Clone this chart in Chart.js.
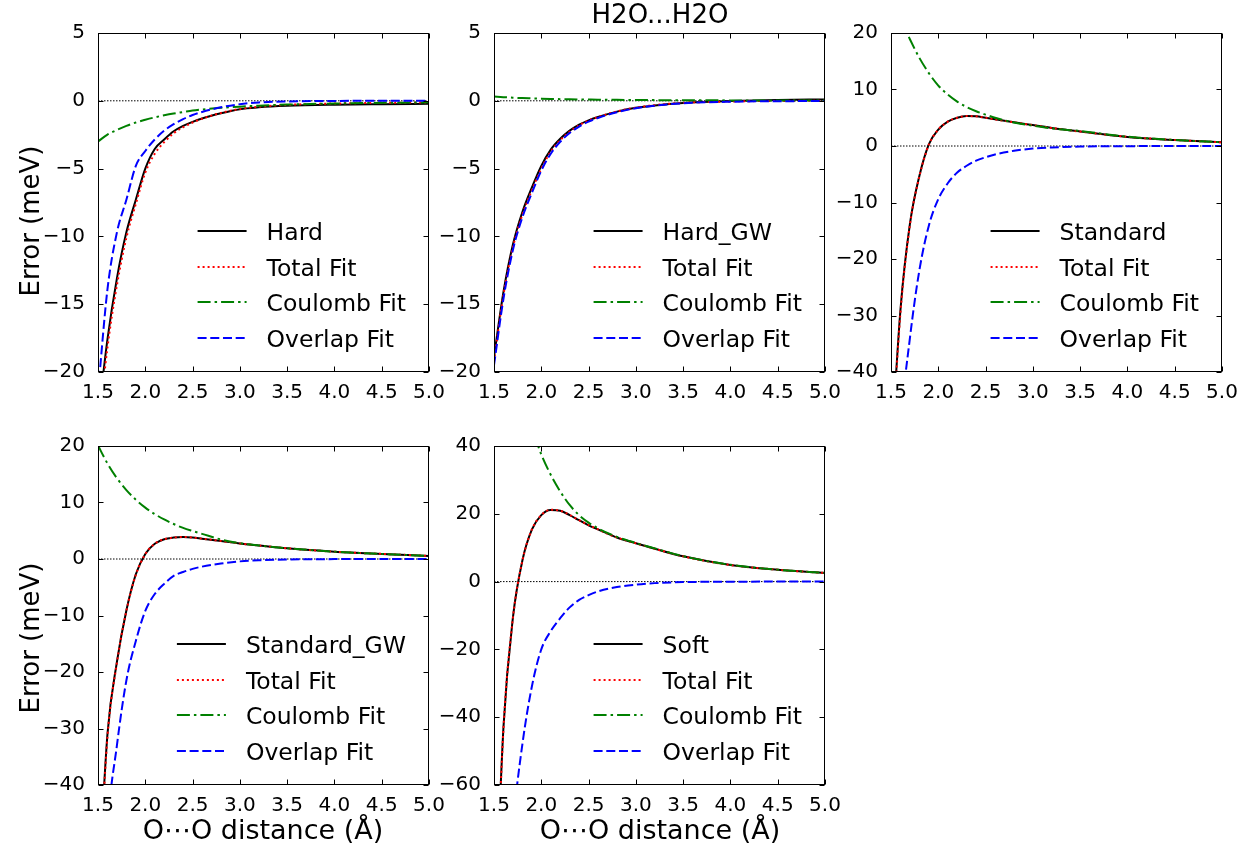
<!DOCTYPE html>
<html>
<head>
<meta charset="utf-8">
<script src="https://cdn.jsdelivr.net/npm/chart.js@4.4.1/dist/chart.umd.min.js"></script>
<style>
body { margin: 0; background: #fff; }
#fig { position: relative; width: 1251px; height: 847px; overflow: hidden; font-family: "DejaVu Sans", sans-serif; }
#fig canvas { position: absolute; }
.lbl { position: absolute; line-height: 1; white-space: nowrap; font-size: 26px; color: #000; transform: translate(-50%, -50%); }
.rot { transform: translate(-50%, -50%) rotate(-90deg); }
.xt { font-size: 27px; }
</style>
</head>
<body>
<div id="fig">
  <canvas id="c1" width="409" height="388" style="left:38px;top:16px"></canvas>
  <canvas id="c2" width="409" height="388" style="left:434px;top:16px"></canvas>
  <canvas id="c3" width="409" height="388" style="left:831px;top:16px"></canvas>
  <canvas id="c4" width="409" height="388" style="left:38px;top:429px"></canvas>
  <canvas id="c5" width="409" height="388" style="left:434px;top:429px"></canvas>
  <div class="lbl" style="left:660px;top:14px">H2O...H2O</div>
  <div class="lbl rot" style="left:30px;top:221px">Error (meV)</div>
  <div class="lbl rot" style="left:30px;top:638px">Error (meV)</div>
  <div class="lbl xt" style="left:263px;top:829px">O⋯O distance (Å)</div>
  <div class="lbl xt" style="left:660px;top:829px">O⋯O distance (Å)</div>
</div>
<script>
// O...O 距離 (Å)
const distance = [1.5, 1.6, 1.7, 1.8, 1.9, 2.0, 2.1, 2.2, 2.3, 2.4, 2.5, 2.6, 2.8, 3.0, 3.2, 3.5, 4.0, 4.5, 5.0];
const xTicks = [1.5, 2.0, 2.5, 3.0, 3.5, 4.0, 4.5, 5.0];

// Hard
const hardRef     = [-23.5, -17.6, -13.1, -9.7, -7.3, -5.0, -3.55, -2.85, -2.25, -1.85, -1.55, -1.3, -0.92, -0.62, -0.48, -0.37, -0.29, -0.25, -0.22];
const hardTotal   = [-24.5, -18.2, -13.6, -10.1, -7.6, -5.3, -3.9, -3.05, -2.4, -1.95, -1.6, -1.32, -0.9, -0.6, -0.44, -0.3, -0.2, -0.15, -0.12];
const hardCoulomb = [-3.0, -2.5, -2.15, -1.85, -1.6, -1.4, -1.22, -1.07, -0.94, -0.83, -0.72, -0.64, -0.52, -0.43, -0.36, -0.28, -0.2, -0.15, -0.11];
const hardOverlap = [-21.5, -13.9, -9.7, -7.3, -4.8, -3.7, -2.85, -2.2, -1.72, -1.35, -1.05, -0.82, -0.48, -0.25, -0.12, -0.05, -0.01, 0, 0];

// Hard_GW
const hardGwRef     = [-18.9, -14.1, -10.6, -8.2, -6.4, -4.8, -3.6, -2.8, -2.2, -1.75, -1.45, -1.2, -0.8, -0.52, -0.34, -0.16, -0.02, 0.06, 0.1];
const hardGwTotal   = [-19.2, -14.3, -10.8, -8.4, -6.6, -5.0, -3.75, -2.9, -2.28, -1.8, -1.45, -1.2, -0.78, -0.5, -0.32, -0.15, -0.05, -0.01, 0];
const hardGwCoulomb = [0.32, 0.27, 0.23, 0.2, 0.18, 0.16, 0.14, 0.12, 0.11, 0.1, 0.09, 0.08, 0.07, 0.06, 0.05, 0.04, 0.03, 0.02, 0.02];
const hardGwOverlap = [-19.5, -14.6, -11.0, -8.6, -6.8, -5.15, -3.9, -3.02, -2.38, -1.9, -1.53, -1.27, -0.84, -0.55, -0.36, -0.18, -0.07, -0.03, -0.02];

// Standard
const stdRef     = [-55, -29, -13.8, -5.3, 0.3, 2.9, 4.3, 5.0, 5.3, 5.25, 5.0, 4.75, 4.2, 3.7, 3.2, 2.57, 1.6, 1.05, 0.65];
const stdTotal   = [-56, -29.5, -14, -5.4, 0.2, 2.9, 4.3, 5.0, 5.3, 5.25, 5.0, 4.72, 4.2, 3.68, 3.2, 2.55, 1.62, 1.06, 0.66];
const stdCoulomb = [27, 22.5, 18.9, 15.6, 12.9, 10.7, 9.1, 7.85, 6.9, 6.15, 5.55, 5.0, 4.15, 3.6, 3.1, 2.65, 1.65, 1.07, 0.67];
const stdOverlap = [-80, -50, -34, -22, -14.1, -9.4, -6.6, -4.7, -3.5, -2.6, -2.0, -1.5, -0.85, -0.45, -0.25, -0.1, -0.03, 0, 0];

// Standard_GW
const stdGwRef     = [-60, -31, -18.2, -9.1, -2.7, 0.9, 2.7, 3.5, 3.8, 3.9, 3.8, 3.6, 3.2, 2.75, 2.4, 1.9, 1.3, 0.9, 0.55];
const stdGwTotal   = [-61, -31.5, -18.4, -9.2, -2.8, 0.85, 2.7, 3.5, 3.8, 3.9, 3.8, 3.6, 3.2, 2.75, 2.4, 1.9, 1.3, 0.9, 0.55];
const stdGwCoulomb = [20.1, 16.9, 14.3, 12.2, 10.5, 9.1, 7.95, 7.0, 6.2, 5.5, 4.95, 4.45, 3.45, 2.8, 2.4, 1.9, 1.3, 0.9, 0.55];
const stdGwOverlap = [-85, -48, -33, -21.5, -14.5, -9.2, -6.2, -4.4, -3.0, -2.3, -1.75, -1.35, -0.8, -0.42, -0.22, -0.08, -0.02, 0, 0];

// Soft
const softRef     = [-110, -43, -10.6, 6.2, 15.3, 19.6, 21.1, 20.9, 19.6, 18.1, 16.6, 15.4, 13.0, 11.3, 9.7, 7.45, 4.9, 3.5, 2.55];
const softTotal   = [-111, -43.5, -10.8, 6.1, 15.3, 19.6, 21.2, 20.9, 19.7, 18.1, 16.7, 15.4, 13.0, 11.3, 9.7, 7.45, 4.9, 3.5, 2.55];
const softCoulomb = [90, 76, 64, 54, 45.5, 37.5, 31.5, 26.6, 22.6, 19.6, 17.4, 15.7, 13.2, 11.4, 9.8, 7.5, 4.95, 3.5, 2.55];
const softOverlap = [-170, -110, -72, -48, -31, -20, -14.6, -10.8, -7.6, -5.4, -4.0, -2.9, -1.6, -0.9, -0.45, -0.15, -0.03, 0, 0];

// y軸の目盛
const yTicksSmall = [-20, -15, -10, -5, 0, 5];
const yTicksMid   = [-40, -30, -20, -10, 0, 10, 20];
const yTicksSoft  = [-60, -40, -20, 0, 20, 40];

const FONT = '"DejaVu Sans"';
Chart.defaults.font.family = FONT;

function pts(ys) {
    return distance.map((x, i) => ({ x: x, y: ys[i] }));
}

// 枠線と内向きの目盛を描く
const frameTicks = {
    id: 'frameTicks',
    afterDatasetsDraw(chart) {
        const { ctx, chartArea: a, scales: { x, y } } = chart;
        const L = Math.round(a.left) + 0.5, R = Math.round(a.right) - 0.5;
        const T = Math.round(a.top) + 0.5, B = Math.round(a.bottom) - 0.5;
        ctx.save();
        ctx.strokeStyle = '#000';
        ctx.lineWidth = 1;
        ctx.setLineDash([]);
        ctx.beginPath();
        x.ticks.forEach(t => {
            const px = Math.round(x.getPixelForValue(t.value)) + 0.5;
            ctx.moveTo(px, T); ctx.lineTo(px, T + 5);
            ctx.moveTo(px, B); ctx.lineTo(px, B - 5);
        });
        y.ticks.forEach(t => {
            const py = Math.round(y.getPixelForValue(t.value)) + 0.5;
            ctx.moveTo(L, py); ctx.lineTo(L + 5, py);
            ctx.moveTo(R, py); ctx.lineTo(R - 5, py);
        });
        ctx.stroke();
        ctx.strokeRect(L, T, R - L, B - T);
        ctx.restore();
    }
};

// 右下の凡例 (枠なし)
const innerLegend = {
    id: 'innerLegend',
    afterDraw(chart) {
        const { ctx, chartArea: a } = chart;
        const sets = chart.data.datasets.filter(d => d.label);
        ctx.save();
        ctx.font = '23.5px ' + FONT;
        const maxW = Math.max(...sets.map(d => ctx.measureText(d.label).width));
        const textX = a.right - 23 - maxW;
        const x1 = textX - 20, x0 = x1 - 49;
        sets.forEach((d, i) => {
            const yc = Math.round(a.bottom - 34.5 - (sets.length - 1 - i) * 35.5);
            ctx.strokeStyle = d.borderColor;
            ctx.lineWidth = d.borderWidth;
            ctx.setLineDash(d.borderDash || []);
            ctx.beginPath();
            ctx.moveTo(x0, yc); ctx.lineTo(x1, yc);
            ctx.stroke();
            ctx.fillStyle = '#000';
            ctx.textBaseline = 'alphabetic';
            ctx.fillText(d.label, textX, yc + 8.5);
        });
        ctx.restore();
    }
};

function yLabel(v) {
    return v < 0 ? '\u2212' + Math.abs(v) : String(v);
}

function createPanel(id, refLabel, ref, total, coul, over, yTicks) {
    const datasets = [
        { label: refLabel, data: pts(ref), borderColor: '#000000', borderWidth: 2, order: 4 },
        { label: 'Total Fit', data: pts(total), borderColor: '#ff0000', borderWidth: 2, borderDash: [2, 3], order: 3 },
        { label: 'Coulomb Fit', data: pts(coul), borderColor: '#008000', borderWidth: 2, borderDash: [13, 4, 2.5, 4], order: 2 },
        { label: 'Overlap Fit', data: pts(over), borderColor: '#0000ff', borderWidth: 2, borderDash: [9, 3.7], order: 1 },
        // y=0 の点線
        { data: [{ x: xTicks[0], y: 0 }, { x: xTicks[xTicks.length - 1], y: 0 }], borderColor: '#000000', borderWidth: 1, borderDash: [1.5, 1.5], order: 5 }
    ];

    new Chart(document.getElementById(id).getContext('2d'), {
        type: 'line',
        data: { datasets },
        options: {
            responsive: false,
            animation: false,
            devicePixelRatio: 1,
            layout: { padding: { top: 14, right: 18, left: 0, bottom: 0 } },
            elements: {
                point: { radius: 0, hoverRadius: 0 },
                line: { cubicInterpolationMode: 'monotone', fill: false }
            },
            plugins: { legend: { display: false }, tooltip: { enabled: false } },
            scales: {
                x: {
                    type: 'linear',
                    min: xTicks[0],
                    max: xTicks[xTicks.length - 1],
                    grid: { display: false },
                    border: { display: false },
                    afterBuildTicks: s => { s.ticks = xTicks.map(v => ({ value: v })); },
                    afterFit: s => { s.height = 32; },
                    ticks: { color: '#000', font: { size: 20 }, padding: 1, maxRotation: 0, autoSkip: false,
                             callback: v => Number(v).toFixed(1) }
                },
                y: {
                    type: 'linear',
                    min: yTicks[0],
                    max: yTicks[yTicks.length - 1],
                    grid: { display: false },
                    border: { display: false },
                    afterBuildTicks: s => { s.ticks = yTicks.map(v => ({ value: v })); },
                    afterFit: s => { s.width = 60; },
                    ticks: { color: '#000', font: { size: 20 }, padding: 5, autoSkip: false, callback: v => yLabel(v) }
                }
            }
        },
        plugins: [frameTicks, innerLegend]
    });
}

createPanel('c1', 'Hard', hardRef, hardTotal, hardCoulomb, hardOverlap, yTicksSmall);
createPanel('c2', 'Hard_GW', hardGwRef, hardGwTotal, hardGwCoulomb, hardGwOverlap, yTicksSmall);
createPanel('c3', 'Standard', stdRef, stdTotal, stdCoulomb, stdOverlap, yTicksMid);
createPanel('c4', 'Standard_GW', stdGwRef, stdGwTotal, stdGwCoulomb, stdGwOverlap, yTicksMid);
createPanel('c5', 'Soft', softRef, softTotal, softCoulomb, softOverlap, yTicksSoft);
</script>
</body>
</html>
